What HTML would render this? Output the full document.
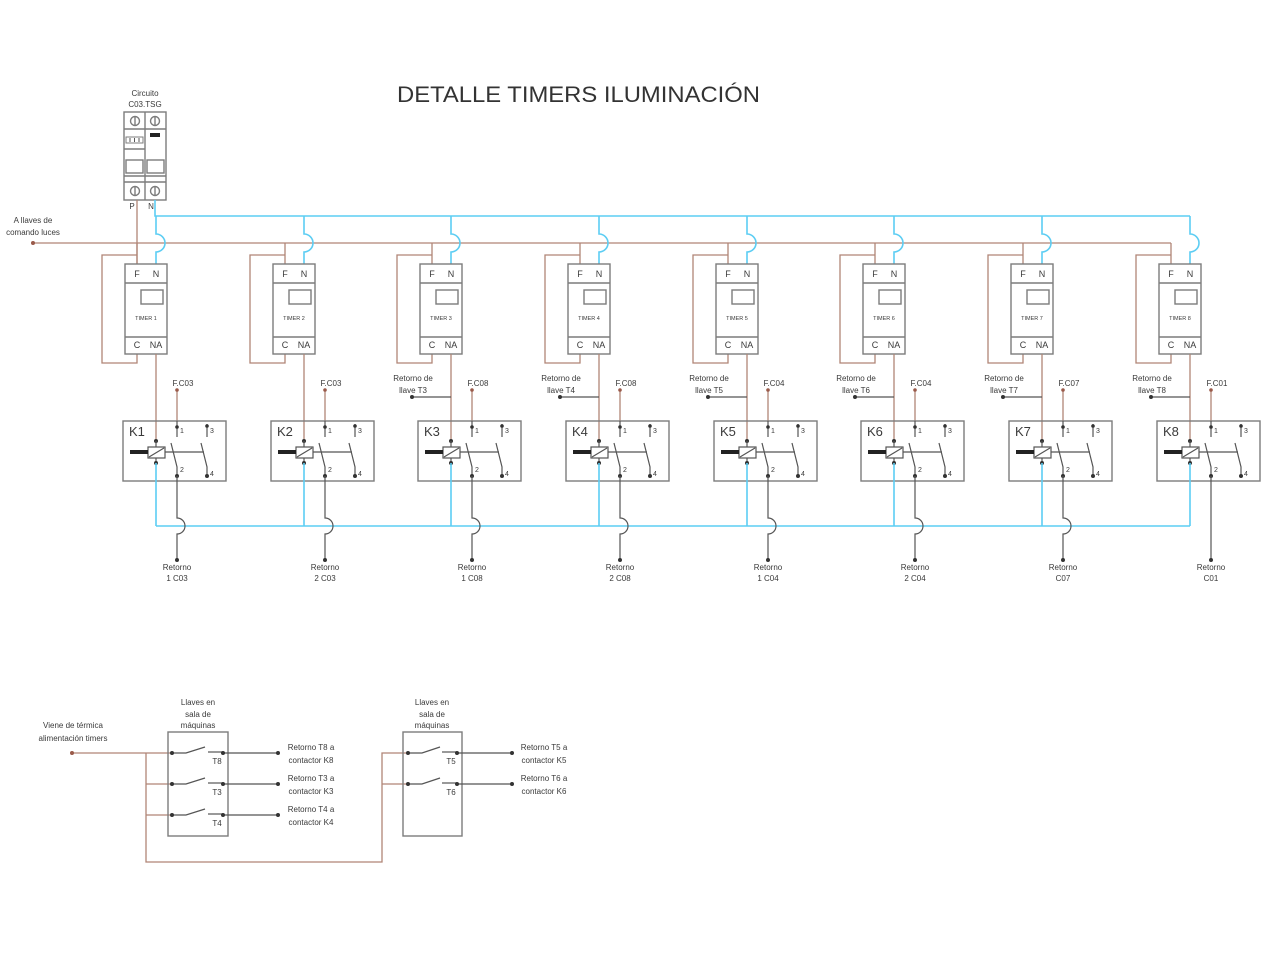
<!DOCTYPE html>
<html><head><meta charset="utf-8"><style>
html,body{margin:0;padding:0;background:#fff;}
svg{display:block;}
text{font-family:"Liberation Sans",Arial,sans-serif;fill:#3a3a3a;}
.br{stroke:#b08576;stroke-width:1.3;fill:none;}
.bl{stroke:#5ccdf3;stroke-width:1.6;fill:none;}
.bx{stroke:#7c7c7c;stroke-width:1.4;fill:none;}
.dk{stroke:#555;stroke-width:1.2;fill:none;}
.c{text-anchor:middle;}
.t8{font-size:8px;}
.t9{font-size:9px;}
.t5{font-size:5.5px;}
.t7{font-size:7px;}
.t13{font-size:13px;}
</style></head><body>
<svg width="1280" height="960" viewBox="0 0 1280 960" xmlns="http://www.w3.org/2000/svg">
<defs>
<g id="u">
  <line x1="12" y1="243" x2="12" y2="264" class="br"/>
  <polyline points="12,255 -23,255 -23,363 12,363 12,354" class="br"/>
  <path d="M31 216 V234 A9 9 0 0 1 31 252 V264" class="bl"/>
  <rect x="0" y="264" width="42" height="90" class="bx"/>
  <line x1="0" y1="283" x2="42" y2="283" class="bx"/>
  <line x1="0" y1="337" x2="42" y2="337" class="bx"/>
  <rect x="16" y="290" width="22" height="14" class="bx"/>
  <line x1="31" y1="354" x2="31" y2="441" class="br"/>
  <line x1="52" y1="390" x2="52" y2="421" class="br"/>
  <circle cx="52" cy="390" r="1.8" fill="#9a5a4a"/>
  <rect x="-2" y="421" width="103" height="60" class="bx"/>
  <!-- coil -->
  <circle cx="31" cy="441" r="2" fill="#333"/>
  <line x1="31" y1="441" x2="31" y2="447" class="dk"/>
  <rect x="23" y="447" width="17" height="11" class="dk"/>
  <line x1="24" y1="457" x2="39" y2="448" class="dk"/>
  <rect x="5" y="450" width="18" height="4" fill="#222"/>
  <line x1="31" y1="458" x2="31" y2="463" class="dk"/>
  <circle cx="31" cy="463" r="2" fill="#333"/>
  <line x1="31" y1="463" x2="31" y2="526" class="bl"/>
  <!-- contact 1-2 -->
  <line x1="52" y1="421" x2="52" y2="437" class="dk"/>
  <circle cx="52" cy="427" r="1.8" fill="#333"/>
  <polyline points="52,476 52,467 46,443" class="dk"/>
  <circle cx="52" cy="476" r="2" fill="#333"/>
  <!-- contact 3-4 -->
  <line x1="82" y1="424" x2="82" y2="437" class="dk"/>
  <circle cx="82" cy="426" r="1.8" fill="#333"/>
  <polyline points="82,476 82,467 76,443" class="dk"/>
  <circle cx="82" cy="476" r="2" fill="#333"/>
  <line x1="40" y1="452" x2="79" y2="452" class="dk"/>
</g>
<g id="outhop">
  <path d="M52 476 V518 A8 8 0 0 1 52 534 V560" class="dk"/>
  <circle cx="52" cy="560" r="2" fill="#333"/>
</g>
<g id="ret">
  <line x1="-8" y1="397" x2="31" y2="397" class="dk"/>
  <circle cx="-8" cy="397" r="2" fill="#333"/>
</g>
</defs>

<!-- Title -->
<text x="397" y="102" font-size="22" textLength="363" lengthAdjust="spacingAndGlyphs" style="fill:#333">DETALLE TIMERS ILUMINACIÓN</text>

<!-- Breaker -->
<text x="145" y="96" class="t8 c">Circuito</text>
<text x="145" y="107" class="t8 c">C03.TSG</text>
<rect x="124" y="112" width="42" height="88" class="bx"/>
<line x1="145" y1="112" x2="145" y2="200" class="bx"/>
<line x1="124" y1="129" x2="166" y2="129" class="bx"/>
<line x1="124" y1="182" x2="166" y2="182" class="bx"/>
<circle cx="135" cy="121" r="4.5" class="bx"/>
<line x1="135" y1="117" x2="135" y2="125" class="bx"/>
<circle cx="155" cy="121" r="4.5" class="bx"/>
<line x1="155" y1="117" x2="155" y2="125" class="bx"/>
<circle cx="135" cy="191" r="4.5" class="bx"/>
<line x1="135" y1="187" x2="135" y2="195" class="bx"/>
<circle cx="155" cy="191" r="4.5" class="bx"/>
<line x1="155" y1="187" x2="155" y2="195" class="bx"/>
<rect x="126" y="137" width="17" height="6" class="bx" style="stroke-width:1"/>
<line x1="130" y1="138" x2="130" y2="142" class="dk" style="stroke-width:1"/>
<line x1="134.5" y1="138" x2="134.5" y2="142" class="dk" style="stroke-width:1"/>
<line x1="139" y1="138" x2="139" y2="142" class="dk" style="stroke-width:1"/>
<line x1="124" y1="149" x2="145" y2="149" class="bx"/>
<rect x="150" y="133" width="10" height="4" fill="#222"/>
<rect x="126" y="160" width="17" height="13" class="bx"/>
<rect x="147" y="160" width="17" height="13" class="bx"/>
<line x1="124" y1="176" x2="166" y2="176" class="bx"/>
<text x="132" y="209" class="t8 c">P</text>
<text x="151" y="209" class="t8 c">N</text>

<!-- Mains -->
<text x="33" y="223" class="t8 c">A llaves de</text>
<text x="33" y="235" class="t8 c">comando luces</text>
<line x1="33" y1="243" x2="1171" y2="243" class="br"/>
<circle cx="33" cy="243" r="2" fill="#9a5a4a"/>
<line x1="137" y1="200" x2="137" y2="264" class="br"/>
<polyline points="155,200 155,216 1190,216" class="bl"/>
<line x1="156" y1="526" x2="1190" y2="526" class="bl"/>

<!-- Units -->
<use href="#u" x="125"/><use href="#u" x="273"/><use href="#u" x="420"/><use href="#u" x="568"/>
<use href="#u" x="716"/><use href="#u" x="863"/><use href="#u" x="1011"/><use href="#u" x="1159"/>
<use href="#outhop" x="125"/><use href="#outhop" x="273"/><use href="#outhop" x="420"/><use href="#outhop" x="568"/>
<use href="#outhop" x="716"/><use href="#outhop" x="863"/><use href="#outhop" x="1011"/>
<line x1="1211" y1="476" x2="1211" y2="560" class="dk"/>
<circle cx="1211" cy="560" r="2" fill="#333"/>
<use href="#ret" x="420"/><use href="#ret" x="568"/><use href="#ret" x="716"/><use href="#ret" x="863"/><use href="#ret" x="1011"/><use href="#ret" x="1159"/>

<!-- Unit texts -->
<g transform="translate(125,0)">
<text x="12" y="277" class="t9 c">F</text><text x="31" y="277" class="t9 c">N</text>
<text x="21" y="320" class="t5 c">TIMER 1</text>
<text x="12" y="348" class="t9 c">C</text><text x="31" y="348" class="t9 c">NA</text>
<text x="58" y="386" class="t8 c">F.C03</text>
<text x="4" y="436" class="t13">K1</text>
<text x="55" y="433" class="t7">1</text><text x="85" y="433" class="t7">3</text>
<text x="55" y="472" class="t7">2</text><text x="85" y="476" class="t7">4</text>
<text x="52" y="570" class="t8 c">Retorno</text><text x="52" y="581" class="t8 c">1 C03</text>
</g>
<g transform="translate(273,0)">
<text x="12" y="277" class="t9 c">F</text><text x="31" y="277" class="t9 c">N</text>
<text x="21" y="320" class="t5 c">TIMER 2</text>
<text x="12" y="348" class="t9 c">C</text><text x="31" y="348" class="t9 c">NA</text>
<text x="58" y="386" class="t8 c">F.C03</text>
<text x="4" y="436" class="t13">K2</text>
<text x="55" y="433" class="t7">1</text><text x="85" y="433" class="t7">3</text>
<text x="55" y="472" class="t7">2</text><text x="85" y="476" class="t7">4</text>
<text x="52" y="570" class="t8 c">Retorno</text><text x="52" y="581" class="t8 c">2 C03</text>
</g>
<g transform="translate(420,0)">
<text x="12" y="277" class="t9 c">F</text><text x="31" y="277" class="t9 c">N</text>
<text x="21" y="320" class="t5 c">TIMER 3</text>
<text x="12" y="348" class="t9 c">C</text><text x="31" y="348" class="t9 c">NA</text>
<text x="-7" y="381" class="t8 c">Retorno de</text><text x="-7" y="393" class="t8 c">llave T3</text>
<text x="58" y="386" class="t8 c">F.C08</text>
<text x="4" y="436" class="t13">K3</text>
<text x="55" y="433" class="t7">1</text><text x="85" y="433" class="t7">3</text>
<text x="55" y="472" class="t7">2</text><text x="85" y="476" class="t7">4</text>
<text x="52" y="570" class="t8 c">Retorno</text><text x="52" y="581" class="t8 c">1 C08</text>
</g>
<g transform="translate(568,0)">
<text x="12" y="277" class="t9 c">F</text><text x="31" y="277" class="t9 c">N</text>
<text x="21" y="320" class="t5 c">TIMER 4</text>
<text x="12" y="348" class="t9 c">C</text><text x="31" y="348" class="t9 c">NA</text>
<text x="-7" y="381" class="t8 c">Retorno de</text><text x="-7" y="393" class="t8 c">llave T4</text>
<text x="58" y="386" class="t8 c">F.C08</text>
<text x="4" y="436" class="t13">K4</text>
<text x="55" y="433" class="t7">1</text><text x="85" y="433" class="t7">3</text>
<text x="55" y="472" class="t7">2</text><text x="85" y="476" class="t7">4</text>
<text x="52" y="570" class="t8 c">Retorno</text><text x="52" y="581" class="t8 c">2 C08</text>
</g>
<g transform="translate(716,0)">
<text x="12" y="277" class="t9 c">F</text><text x="31" y="277" class="t9 c">N</text>
<text x="21" y="320" class="t5 c">TIMER 5</text>
<text x="12" y="348" class="t9 c">C</text><text x="31" y="348" class="t9 c">NA</text>
<text x="-7" y="381" class="t8 c">Retorno de</text><text x="-7" y="393" class="t8 c">llave T5</text>
<text x="58" y="386" class="t8 c">F.C04</text>
<text x="4" y="436" class="t13">K5</text>
<text x="55" y="433" class="t7">1</text><text x="85" y="433" class="t7">3</text>
<text x="55" y="472" class="t7">2</text><text x="85" y="476" class="t7">4</text>
<text x="52" y="570" class="t8 c">Retorno</text><text x="52" y="581" class="t8 c">1 C04</text>
</g>
<g transform="translate(863,0)">
<text x="12" y="277" class="t9 c">F</text><text x="31" y="277" class="t9 c">N</text>
<text x="21" y="320" class="t5 c">TIMER 6</text>
<text x="12" y="348" class="t9 c">C</text><text x="31" y="348" class="t9 c">NA</text>
<text x="-7" y="381" class="t8 c">Retorno de</text><text x="-7" y="393" class="t8 c">llave T6</text>
<text x="58" y="386" class="t8 c">F.C04</text>
<text x="4" y="436" class="t13">K6</text>
<text x="55" y="433" class="t7">1</text><text x="85" y="433" class="t7">3</text>
<text x="55" y="472" class="t7">2</text><text x="85" y="476" class="t7">4</text>
<text x="52" y="570" class="t8 c">Retorno</text><text x="52" y="581" class="t8 c">2 C04</text>
</g>
<g transform="translate(1011,0)">
<text x="12" y="277" class="t9 c">F</text><text x="31" y="277" class="t9 c">N</text>
<text x="21" y="320" class="t5 c">TIMER 7</text>
<text x="12" y="348" class="t9 c">C</text><text x="31" y="348" class="t9 c">NA</text>
<text x="-7" y="381" class="t8 c">Retorno de</text><text x="-7" y="393" class="t8 c">llave T7</text>
<text x="58" y="386" class="t8 c">F.C07</text>
<text x="4" y="436" class="t13">K7</text>
<text x="55" y="433" class="t7">1</text><text x="85" y="433" class="t7">3</text>
<text x="55" y="472" class="t7">2</text><text x="85" y="476" class="t7">4</text>
<text x="52" y="570" class="t8 c">Retorno</text><text x="52" y="581" class="t8 c">C07</text>
</g>
<g transform="translate(1159,0)">
<text x="12" y="277" class="t9 c">F</text><text x="31" y="277" class="t9 c">N</text>
<text x="21" y="320" class="t5 c">TIMER 8</text>
<text x="12" y="348" class="t9 c">C</text><text x="31" y="348" class="t9 c">NA</text>
<text x="-7" y="381" class="t8 c">Retorno de</text><text x="-7" y="393" class="t8 c">llave T8</text>
<text x="58" y="386" class="t8 c">F.C01</text>
<text x="4" y="436" class="t13">K8</text>
<text x="55" y="433" class="t7">1</text><text x="85" y="433" class="t7">3</text>
<text x="55" y="472" class="t7">2</text><text x="85" y="476" class="t7">4</text>
<text x="52" y="570" class="t8 c">Retorno</text><text x="52" y="581" class="t8 c">C01</text>
</g>

<!-- Bottom circuits -->
<text x="73" y="728" class="t8 c">Viene de térmica</text>
<text x="73" y="741" class="t8 c">alimentación timers</text>
<line x1="72" y1="753" x2="172" y2="753" class="br"/>
<circle cx="72" cy="753" r="2" fill="#9a5a4a"/>
<polyline points="146,753 146,862 382,862 382,753 408,753" class="br"/>
<line x1="146" y1="784" x2="172" y2="784" class="br"/>
<line x1="146" y1="815" x2="172" y2="815" class="br"/>
<line x1="382" y1="784" x2="408" y2="784" class="br"/>

<text x="198" y="705" class="t8 c">Llaves en</text>
<text x="198" y="717" class="t8 c">sala de</text>
<text x="198" y="728" class="t8 c">máquinas</text>
<rect x="168" y="732" width="60" height="104" class="bx"/>

<text x="432" y="705" class="t8 c">Llaves en</text>
<text x="432" y="717" class="t8 c">sala de</text>
<text x="432" y="728" class="t8 c">máquinas</text>
<rect x="403" y="732" width="59" height="104" class="bx"/>

<!-- box1 rows -->
<g>
  <polyline points="172,753 186,753 205,747" class="dk"/>
  <line x1="208" y1="752" x2="223" y2="752" class="dk"/>
  <line x1="223" y1="753" x2="278" y2="753" class="dk"/>
  <circle cx="172" cy="753" r="2" fill="#333"/><circle cx="223" cy="753" r="2" fill="#333"/><circle cx="278" cy="753" r="2" fill="#333"/>
  <text x="217" y="764" class="t8 c">T8</text>
  <text x="311" y="750" class="t8 c">Retorno T8 a</text>
  <text x="311" y="763" class="t8 c">contactor K8</text>

  <polyline points="172,784 186,784 205,778" class="dk"/>
  <line x1="208" y1="783" x2="223" y2="783" class="dk"/>
  <line x1="223" y1="784" x2="278" y2="784" class="dk"/>
  <circle cx="172" cy="784" r="2" fill="#333"/><circle cx="223" cy="784" r="2" fill="#333"/><circle cx="278" cy="784" r="2" fill="#333"/>
  <text x="217" y="795" class="t8 c">T3</text>
  <text x="311" y="781" class="t8 c">Retorno T3 a</text>
  <text x="311" y="794" class="t8 c">contactor K3</text>

  <polyline points="172,815 186,815 205,809" class="dk"/>
  <line x1="208" y1="814" x2="223" y2="814" class="dk"/>
  <line x1="223" y1="815" x2="278" y2="815" class="dk"/>
  <circle cx="172" cy="815" r="2" fill="#333"/><circle cx="223" cy="815" r="2" fill="#333"/><circle cx="278" cy="815" r="2" fill="#333"/>
  <text x="217" y="826" class="t8 c">T4</text>
  <text x="311" y="812" class="t8 c">Retorno T4 a</text>
  <text x="311" y="825" class="t8 c">contactor K4</text>
</g>
<!-- box2 rows -->
<g>
  <polyline points="408,753 422,753 440,747" class="dk"/>
  <line x1="442" y1="752" x2="457" y2="752" class="dk"/>
  <line x1="457" y1="753" x2="512" y2="753" class="dk"/>
  <circle cx="408" cy="753" r="2" fill="#333"/><circle cx="457" cy="753" r="2" fill="#333"/><circle cx="512" cy="753" r="2" fill="#333"/>
  <text x="451" y="764" class="t8 c">T5</text>
  <text x="544" y="750" class="t8 c">Retorno T5 a</text>
  <text x="544" y="763" class="t8 c">contactor K5</text>

  <polyline points="408,784 422,784 440,778" class="dk"/>
  <line x1="442" y1="783" x2="457" y2="783" class="dk"/>
  <line x1="457" y1="784" x2="512" y2="784" class="dk"/>
  <circle cx="408" cy="784" r="2" fill="#333"/><circle cx="457" cy="784" r="2" fill="#333"/><circle cx="512" cy="784" r="2" fill="#333"/>
  <text x="451" y="795" class="t8 c">T6</text>
  <text x="544" y="781" class="t8 c">Retorno T6 a</text>
  <text x="544" y="794" class="t8 c">contactor K6</text>
</g>
</svg>
</body></html>
